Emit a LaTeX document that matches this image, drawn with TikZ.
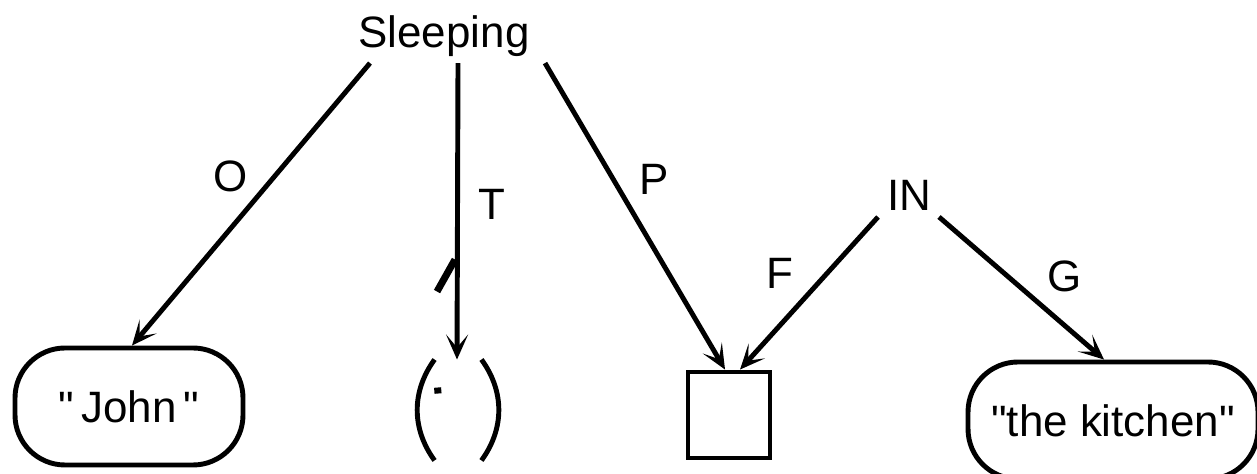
\documentclass[tikz,border=0pt]{standalone}
\usepackage{fontspec}
\setmainfont{Liberation Sans}
\usetikzlibrary{arrows.meta}

\begin{document}
\begin{tikzpicture}[   % opciones por defecto
      -{Stealth[length=0.25cm, width=0.22cm, inset=0.13cm]}, % flecha al final
      line width=1.4pt,  % linea gruesa
      draw=black,        % linea negra
      font=\fontsize{12.5}{15}\selectfont
    ]
    \tikzstyle{concept}=[draw, rectangle, rounded corners=0.5cm, minimum height=1.17cm];
    \tikzstyle{scribble}=[-, line width=2pt];
    %
    % marco de la imagen
    \useasboundingbox (0,0) rectangle (12.57,4.74);
    %
    % nodos de arriba
    \node [anchor=base, inner sep=1pt] (sleep) at (4.44,4.26) {Sleeping};
    \node [anchor=base, inner sep=1pt] (in) at (9.09,2.63) {IN};
    %
    % nodos de abajo
    \node [concept, minimum width=2.28cm] (john) at (1.29,0.675) {\textquotedbl\,John\,\textquotedbl};
    \node [minimum width=0.42cm, minimum height=0.96cm, inner sep=0pt] (time) at (4.58,0.64) {};
    \node [draw, minimum width=0.82cm, minimum height=0.86cm] (place) at (7.29,0.59) {};
    \node [concept, minimum width=2.90cm] (kitchen) at (11.13,0.535) {\textquotedbl the kitchen\textquotedbl};
    %
    % parentesis del tiempo
    \draw [-] (time.north west) to [bend right=36] (time.south west);
    \draw [-] (time.north east) to [bend left=36] (time.south east);
    \draw [scribble] ([shift={(0.03,-0.28)}]time.north west) -- ++(0.005,-0.06);
    %
    % conexiones desde sleeping
    \draw ([xshift=-0.74cm]sleep.south) -- ([xshift=0.03cm]john.north)
      node [pos=0.4, left=0.13cm] {O};
    \draw ([xshift=0.14cm]sleep.south) -- ([xshift=-0.01cm]time.north)
      node [pos=0.475, right=0.07cm] {T};
    \draw ([xshift=1.01cm]sleep.south) -- ([xshift=-0.04cm]place.north)
      node [pos=0.38, right=0.12cm] {P};
    %
    % marca sobre T
    \draw [scribble] ([shift={(-0.21,0.68)}]time.north) -- ([shift={(-0.03,1.0)}]time.north);
    %
    % conexiones desde IN
    \draw ([xshift=-0.31cm]in.south) -- ([xshift=0.11cm]place.north)
      node [pos=0.37, left=0.19cm] {F};
    \draw ([xshift=0.30cm]in.south) -- ([xshift=-0.09cm]kitchen.north)
      node [pos=0.42, right=0.25cm] {G};
  \end{tikzpicture}
\end{document}
